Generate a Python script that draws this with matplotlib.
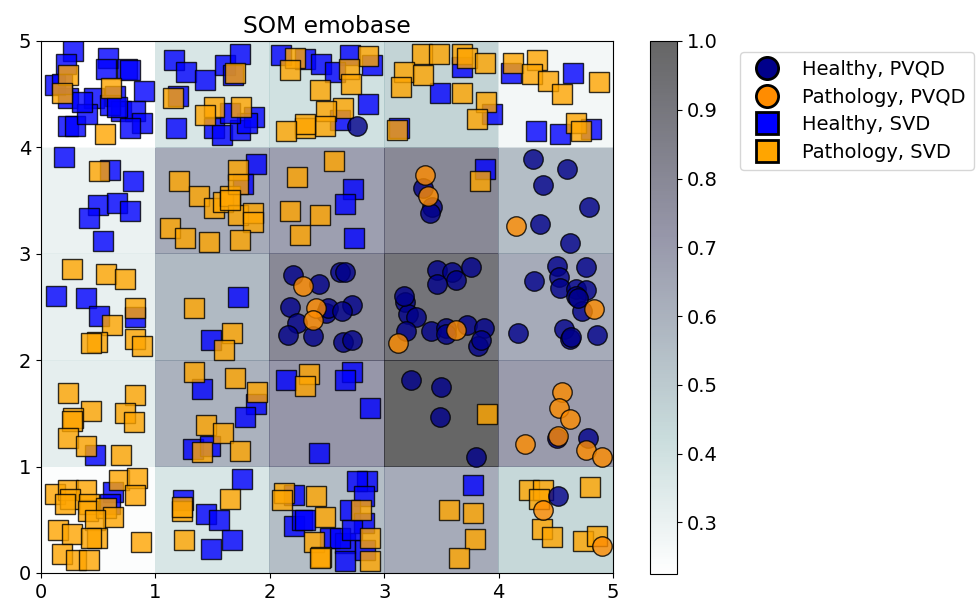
import numpy as np
import matplotlib
matplotlib.use("Agg")
import matplotlib.pyplot as plt
from matplotlib.lines import Line2D

# distance map of the 5x5 SOM, rows = y (bottom to top), cols = x
dist_row0 = [0.235, 0.37, 0.55, 0.63, 0.44]
dist_row1 = [0.32, 0.60, 0.72, 1.00, 0.70]
dist_row2 = [0.31, 0.57, 0.80, 0.92, 0.63]
dist_row3 = [0.30, 0.63, 0.68, 0.80, 0.55]
dist_row4 = [0.225, 0.37, 0.40, 0.46, 0.27]

# Healthy, SVD (blue squares)
healthy_svd_x = [0.28, 0.22, 0.59, 0.57, 0.75, 0.78, 0.12, 0.24, 0.46, 0.65, 0.90, 0.70, 0.82, 0.88, 0.78,
                 0.24, 0.30, 0.40, 0.60, 0.66, 0.36, 0.18,
                 0.20, 0.60, 0.80, 0.50, 0.66, 0.78, 0.42, 0.54,
                 1.16, 1.27, 1.20, 1.43, 1.61, 1.74, 1.68, 1.18, 1.51, 1.58, 1.74, 1.86, 1.80, 1.65,
                 1.88, 1.77, 0.13, 0.39, 0.51, 0.82, 1.72, 1.49, 0.47,
                 1.41, 1.88, 1.78, 1.33, 1.48,
                 2.14, 2.72, 2.66, 2.88, 2.43, 0.63, 0.60,
                 1.24, 1.44, 1.56, 1.67, 1.49, 1.76,
                 2.21, 2.21, 2.28, 2.85, 2.76, 2.82, 2.70, 2.31, 2.53, 2.66, 2.66, 2.82, 2.83, 2.61, 2.72,
                 3.78, 2.73, 2.66, 2.74,
                 2.10, 2.31, 2.45, 2.70, 2.89, 2.86, 2.57, 2.61,
                 3.68, 3.49, 3.94, 3.13, 3.88,
                 4.11, 4.65, 4.33, 4.54, 4.81]
healthy_svd_y = [4.91, 4.78, 4.84, 4.74, 4.74, 4.73, 4.59, 4.46, 4.46, 4.48, 4.53, 4.34, 4.34, 4.23, 4.18,
                 4.20, 4.20, 4.31, 4.40, 4.38, 4.43, 4.60,
                 3.91, 3.79, 3.68, 3.46, 3.48, 3.40, 3.34, 3.12,
                 4.82, 4.71, 4.48, 4.63, 4.77, 4.88, 4.68, 4.18, 4.18, 4.12, 4.16, 4.29, 4.23, 4.32,
                 3.84, 3.66, 2.60, 2.58, 2.42, 2.41, 2.59, 2.19, 1.11,
                 1.73, 1.59, 1.47, 1.17, 1.19,
                 1.81, 1.89, 1.81, 1.55, 1.13, 0.76, 0.65,
                 0.69, 0.55, 0.50, 0.31, 0.23, 0.88,
                 0.73, 0.44, 0.50, 0.86, 0.86, 0.72, 0.59, 0.50, 0.33, 0.28, 0.11, 0.47, 0.22, 0.33, 0.40,
                 0.83, 3.61, 3.47, 3.15,
                 4.87, 4.83, 4.78, 4.87, 4.77, 4.41, 4.71, 4.26,
                 4.76, 4.51, 4.31, 4.18, 3.80,
                 4.70, 4.70, 4.15, 4.13, 4.17]

# Pathology, SVD (orange squares)
patho_svd_x = [0.24, 0.18, 0.61, 0.56, 0.51,
               1.15, 1.70, 1.51, 1.43, 1.75,
               1.21, 1.38, 1.51, 1.59, 1.65, 1.72, 1.72, 1.72, 1.85, 1.85, 1.13, 1.26, 1.47, 1.74, 1.65,
               0.27, 0.57, 0.73, 0.82, 0.62, 0.49, 0.44, 0.82, 0.88,
               1.34, 1.67, 1.60,
               0.24, 0.82, 0.44, 0.73, 0.28, 0.27, 0.81, 0.24, 0.39, 0.70,
               1.34, 1.70, 1.89, 1.44, 1.59, 1.74, 1.41,
               2.34, 2.31, 3.90,
               0.12, 0.24, 0.39, 0.68, 0.84, 0.25, 0.21, 0.42, 0.82, 0.41, 0.57, 0.63, 0.47, 0.15, 0.27,
               0.49, 0.44, 0.87, 0.18, 0.31, 0.42,
               1.23, 1.23, 1.65, 1.25,
               2.12, 2.11, 2.40, 2.39, 2.45, 2.48, 2.80, 2.88, 2.88, 2.44,
               3.57, 3.78, 3.79, 3.65,
               4.27, 4.39, 4.35, 4.80, 4.38, 4.47, 4.74, 4.86,
               2.56, 2.24, 2.18, 2.44, 2.26,
               2.22, 2.18, 2.86, 2.69, 2.71, 2.44, 2.64, 2.49, 2.48, 2.31, 2.31, 2.14,
               3.33, 3.48, 3.68, 3.72, 3.88, 3.17, 3.34, 3.15, 3.68, 3.89, 3.81, 3.11,
               3.84,
               4.13, 4.34, 4.29, 4.43, 4.55, 4.88, 4.68, 4.72]
patho_svd_y = [4.68, 4.51, 4.56, 4.13, 3.78,
               4.46, 4.70, 4.38, 4.30, 4.38,
               3.68, 3.54, 3.43, 3.49, 3.54, 3.79, 3.66, 3.36, 3.38, 3.30, 3.24, 3.15, 3.11, 3.13, 3.51,
               2.86, 2.81, 2.76, 2.49, 2.33, 2.17, 2.16, 2.20, 2.13,
               2.49, 2.26, 2.10,
               1.69, 1.67, 1.52, 1.50, 1.46, 1.43, 1.42, 1.27, 1.19, 1.11,
               1.89, 1.83, 1.70, 1.39, 1.32, 1.15, 1.14,
               1.87, 1.76, 1.49,
               0.74, 0.78, 0.78, 0.87, 0.89, 0.70, 0.65, 0.65, 0.73, 0.58, 0.61, 0.53, 0.50, 0.40, 0.37,
               0.33, 0.33, 0.29, 0.18, 0.12, 0.12,
               0.58, 0.62, 0.70, 0.31,
               0.75, 0.69, 0.72, 0.29, 0.15, 0.53, 0.59, 0.33, 0.11, 0.14,
               0.59, 0.56, 0.32, 0.14,
               0.78, 0.78, 0.70, 0.81, 0.41, 0.34, 0.30, 0.35,
               3.87, 3.72, 3.40, 3.36, 3.18,
               4.84, 4.73, 4.86, 4.74, 4.60, 4.54, 4.37, 4.34, 4.20, 4.18, 4.22, 4.15,
               4.88, 4.88, 4.88, 4.84, 4.79, 4.71, 4.68, 4.57, 4.51, 4.43, 4.27, 4.16,
               3.68,
               4.79, 4.82, 4.69, 4.62, 4.50, 4.61, 4.23, 4.15]

# Healthy, PVQD (navy circles)
healthy_pvqd_x = [2.76,
                  2.20, 2.43, 2.61, 2.66, 2.18, 2.72, 2.49, 2.24, 2.38, 2.64, 2.72, 2.16, 2.51, 2.63,
                  3.18, 3.21, 3.28, 3.19, 3.41, 3.54, 3.54, 3.72, 3.87, 3.82, 3.85, 3.46, 3.59, 3.63,
                  3.76, 3.46, 3.17,
                  3.34, 3.42, 3.40,
                  4.30, 4.60, 4.39, 4.79, 4.36, 4.62,
                  4.51, 4.76, 4.31, 4.53, 4.54, 4.68, 4.76, 4.68, 4.17, 4.73, 4.57, 4.62, 4.63, 4.86, 4.69,
                  3.23, 3.50, 3.49, 3.80,
                  4.51, 4.78, 4.52]
healthy_pvqd_y = [4.20,
                  2.80, 2.72, 2.83, 2.83, 2.50, 2.52, 2.44, 2.35, 2.23, 2.17, 2.19, 2.24, 2.49, 2.46,
                  2.55, 2.43, 2.41, 2.27, 2.27, 2.30, 2.25, 2.33, 2.30, 2.13, 2.19, 2.85, 2.83, 2.75,
                  2.88, 2.72, 2.60,
                  3.62, 3.44, 3.38,
                  3.89, 3.80, 3.65, 3.44, 3.28, 3.10,
                  2.89, 2.88, 2.74, 2.78, 2.68, 2.67, 2.66, 2.60, 2.26, 2.46, 2.29, 2.20, 2.22, 2.24, 2.58,
                  1.81, 1.75, 1.47, 1.09,
                  1.27, 1.27, 0.72]

# Pathology, PVQD (dark orange circles)
patho_pvqd_x = [2.29, 2.40, 2.38, 3.12, 3.63, 3.36, 3.38, 4.15, 4.83,
                4.55, 4.53, 4.62, 4.52, 4.23, 4.76, 4.90, 4.39, 4.90]
patho_pvqd_y = [2.70, 2.49, 2.38, 2.16, 2.28, 3.74, 3.54, 3.26, 2.48,
                1.70, 1.55, 1.45, 1.29, 1.21, 1.16, 1.09, 0.59, 0.25]

dist_map = np.array([dist_row0, dist_row1, dist_row2, dist_row3, dist_row4])

plt.rcParams['font.size'] = 14

fig = plt.figure(figsize=(9.79, 6.11), dpi=100)
ax = fig.add_axes([41 / 979, 38 / 611, 572 / 979, 532 / 611])
cax = fig.add_axes([650 / 979, 37 / 611, 27 / 979, 533 / 611])

mesh = ax.pcolor(dist_map, cmap='bone_r', alpha=0.6)
fig.colorbar(mesh, cax=cax)

style = dict(linestyle='none', markersize=14, markeredgecolor='black',
             markeredgewidth=1.0, alpha=0.8)
ax.plot(healthy_svd_x, healthy_svd_y, marker='s', markerfacecolor='blue', **style)
ax.plot(patho_svd_x, patho_svd_y, marker='s', markerfacecolor='orange', **style)
ax.plot(healthy_pvqd_x, healthy_pvqd_y, marker='o', markerfacecolor='darkblue', **style)
ax.plot(patho_pvqd_x, patho_pvqd_y, marker='o', markerfacecolor='darkorange', **style)

ax.set_xlim(0, 5)
ax.set_ylim(0, 5)
ax.set_title('SOM emobase')

handles = [
    Line2D([], [], linestyle='none', marker='o', markersize=16, markerfacecolor='darkblue',
           markeredgecolor='black', markeredgewidth=2, label='Healthy, PVQD'),
    Line2D([], [], linestyle='none', marker='o', markersize=16, markerfacecolor='darkorange',
           markeredgecolor='black', markeredgewidth=2, label='Pathology, PVQD'),
    Line2D([], [], linestyle='none', marker='s', markersize=16, markerfacecolor='blue',
           markeredgecolor='black', markeredgewidth=2, label='Healthy, SVD'),
    Line2D([], [], linestyle='none', marker='s', markersize=16, markerfacecolor='orange',
           markeredgecolor='black', markeredgewidth=2, label='Pathology, SVD'),
]
fig.legend(handles=handles, loc='upper left', bbox_to_anchor=(740 / 979, 1 - 52 / 611),
           borderaxespad=0, labelspacing=0.45)

fig.savefig('out.png', dpi=100)
